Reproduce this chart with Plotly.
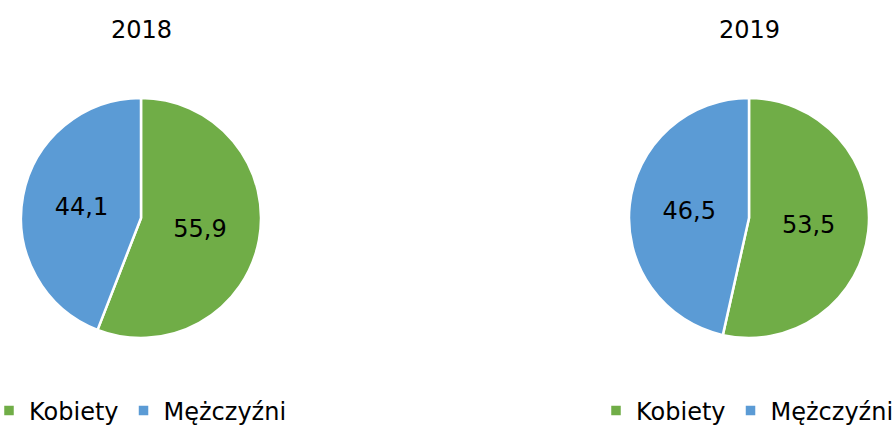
import plotly.graph_objects as go

categories = ["Kobiety", "Mężczyźni"]
values_2018 = [55.9, 44.1]
values_2019 = [53.5, 46.5]
years = ["2018", "2019"]
colors = ["#70AD47", "#5B9BD5"]

W, H = 893, 426
FONT = "DejaVu Sans, Verdana, sans-serif"

def px_x(a, b):
    return [a / W, b / W]

def px_y(top, bottom):
    return [1 - bottom / H, 1 - top / H]

# second pie gets zero-width-space suffixed labels so it keeps its own legend entries
labels_2019 = [c + "\u200b" for c in categories]

fig = go.Figure()
fig.add_trace(go.Pie(
    labels=categories, values=values_2018, sort=False, direction="clockwise", rotation=0,
    marker=dict(colors=colors, line=dict(color="white", width=2.5)),
    texttemplate="%{value:.1f}", textposition="inside", insidetextorientation="horizontal",
    textfont=dict(family=FONT, size=24, color="black"),
    domain=dict(x=px_x(21, 261), y=px_y(98, 338)),
    legend="legend", hoverinfo="label+value", showlegend=True,
))
fig.add_trace(go.Pie(
    labels=labels_2019, values=values_2019, sort=False, direction="clockwise", rotation=0,
    marker=dict(colors=colors, line=dict(color="white", width=2.5)),
    texttemplate="%{value:.1f}", textposition="inside", insidetextorientation="horizontal",
    textfont=dict(family=FONT, size=24, color="black"),
    domain=dict(x=px_x(629, 869), y=px_y(98, 338)),
    legend="legend2", hoverinfo="label+value", showlegend=True,
))

annotations = []
for yr, cx in zip(years, [141, 749]):
    annotations.append(dict(text=yr, x=cx / W, y=1 - 30 / H, xref="paper", yref="paper",
                            xanchor="center", yanchor="middle", showarrow=False,
                            font=dict(family=FONT, size=24, color="black")))

legend_common = dict(orientation="h", yanchor="middle", y=1 - 411 / H, xanchor="left",
                     font=dict(family=FONT, size=24, color="black"),
                     bgcolor="rgba(0,0,0,0)", itemclick=False, itemdoubleclick=False,
                     traceorder="normal")

fig.update_layout(
    width=W, height=H, margin=dict(l=0, r=0, t=0, b=0, autoexpand=False),
    paper_bgcolor="white", plot_bgcolor="white",
    separators=", ",
    annotations=annotations,
    legend=dict(x=-11 / W, **legend_common),
    legend2=dict(x=596 / W, **legend_common),
)

fig.write_html("out.html", config={"displayModeBar": False},
               post_script="document.body.style.margin='0';")
